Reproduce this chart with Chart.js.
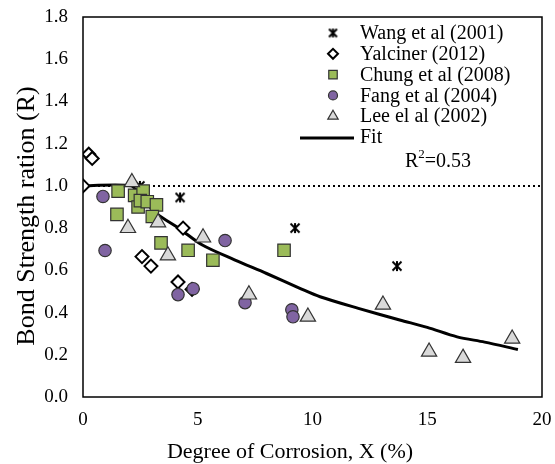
<!DOCTYPE html>
<html><head><meta charset="utf-8">
<script src="https://cdn.jsdelivr.net/npm/chart.js@4/dist/chart.umd.min.js"></script>
<style>html,body{margin:0;padding:0;background:#fff}#wrap{width:555px;height:464px}</style>
</head><body><div id="wrap"><canvas id="c" width="555" height="464"></canvas></div>
<script>
// ---- data ----
const wangX = [2.48, 4.23, 9.24, 13.68];
const wangY = [1.0, 0.945, 0.80, 0.62];
const yalX = [0, 0.25, 0.4, 2.57, 2.96, 4.14, 4.75, 4.36];
const yalY = [1.0, 1.15, 1.13, 0.665, 0.62, 0.545, 0.51, 0.80];
const chungX = [1.53, 1.48, 2.25, 2.62, 2.4, 2.5, 2.8, 3.2, 3.02, 3.4, 4.58, 5.66, 8.76];
const chungY = [0.975, 0.865, 0.955, 0.975, 0.90, 0.93, 0.925, 0.91, 0.855, 0.73, 0.695, 0.648, 0.695];
const fangX = [0.87, 0.96, 4.14, 4.8, 6.19, 7.06, 9.1, 9.15];
const fangY = [0.95, 0.694, 0.485, 0.513, 0.741, 0.447, 0.413, 0.38];
const leeX = [2.13, 1.96, 3.27, 5.23, 3.7, 7.23, 9.8, 13.07, 15.08, 16.56, 18.7];
const leeY = [1.017, 0.80, 0.827, 0.755, 0.67, 0.485, 0.38, 0.437, 0.214, 0.185, 0.276];
const fitX = [0, 2.1, 2.5, 3.2, 4.23, 5.2, 6.6, 8, 9.45, 10.33, 12, 13.8, 15, 16.3, 17.5, 18.95];
const fitY = [1.0, 1.0, 0.95, 0.87, 0.795, 0.72, 0.65, 0.585, 0.515, 0.475, 0.42, 0.365, 0.33, 0.285, 0.26, 0.225];
const refX = [0, 20];
const refY = [1.0, 1.0];
const seriesLabels = ['Wang et al (2001)', 'Yalciner (2012)', 'Chung et al (2008)', 'Fang et al (2004)', 'Lee el al (2002)', 'Fit'];
const r2Text = ['R', '2', '=0.53'];
const xTitle = 'Degree of Corrosion, X (%)';
const yTitle = 'Bond Strength ration (R)';

const pts = (xs, ys) => xs.map((x, i) => ({x: x, y: ys[i]}));

function starMarker(size) {
  const c = document.createElement('canvas');
  c.width = size; c.height = size;
  const g = c.getContext('2d');
  g.strokeStyle = '#000'; g.lineWidth = 2;
  const m = 1.5, s = size - 1.5;
  g.beginPath();
  g.moveTo(m, m); g.lineTo(s, s);
  g.moveTo(s, m); g.lineTo(m, s);
  g.moveTo(size / 2, m - 0.5); g.lineTo(size / 2, s + 0.5);
  g.stroke();
  return c;
}
const star = starMarker(12);
const starSmall = starMarker(11);

const FONT = '"Liberation Serif", "Times New Roman", serif';

const datasets = [
  {label: seriesLabels[0], data: pts(wangX, wangY), pointStyle: star, pointRadius: 6, order: 5,
   borderColor: '#000', backgroundColor: '#000', showLine: false, legendStyle: starSmall, legendRadius: 5.5},
  {label: seriesLabels[1], data: pts(yalX, yalY), pointStyle: 'rectRot', pointRadius: 6.5, pointBorderWidth: 2, order: 4,
   borderColor: '#000', backgroundColor: '#fff', showLine: false, legendRadius: 5},
  {label: seriesLabels[2], data: pts(chungX, chungY), pointStyle: 'rect', pointRadius: 8.8, pointBorderWidth: 1.2, order: 3,
   borderColor: '#333', backgroundColor: '#9BBB59', showLine: false, legendRadius: 6},
  {label: seriesLabels[3], data: pts(fangX, fangY), pointStyle: 'circle', pointRadius: 6.2, pointBorderWidth: 1.2, order: 2,
   borderColor: '#333', backgroundColor: '#8064A2', showLine: false, legendRadius: 4.5},
  {label: seriesLabels[4], data: pts(leeX, leeY), pointStyle: 'triangle', pointRadius: 8.8, pointBorderWidth: 1.2, order: 1,
   borderColor: '#333', backgroundColor: '#D9D9D9', showLine: false, legendRadius: 6},
  {label: seriesLabels[5], data: pts(fitX, fitY), showLine: true, pointRadius: 0, borderColor: '#000', borderWidth: 3,
   tension: 0.3, order: 6, isFit: true},
  {label: '', data: pts(refX, refY), showLine: true, pointRadius: 0, borderColor: '#000', borderWidth: 2,
   borderDash: [2, 3], order: 7, noLegend: true}
];

const legendPlugin = {
  id: 'customLegend',
  afterDraw(chart) {
    const ctx = chart.ctx;
    const ds = chart.data.datasets;
    const markerX = 333, textX = 360, y0 = 33, dy = 20.8;
    ctx.save();
    ctx.font = '20px ' + FONT;
    ctx.textBaseline = 'middle';
    ctx.textAlign = 'left';
    let row = 0;
    ds.forEach(d => {
      if (d.noLegend) return;
      const y = y0 + row * dy;
      if (d.isFit) {
        ctx.strokeStyle = '#000'; ctx.lineWidth = 3;
        ctx.beginPath(); ctx.moveTo(300, y + 1); ctx.lineTo(354, y + 1); ctx.stroke();
      } else {
        ctx.fillStyle = d.backgroundColor;
        ctx.strokeStyle = d.borderColor;
        ctx.lineWidth = d.pointBorderWidth || 1;
        Chart.helpers.drawPoint(ctx, {pointStyle: d.legendStyle || d.pointStyle, rotation: 0,
          borderWidth: d.pointBorderWidth || 1, radius: d.legendRadius}, markerX, y);
      }
      ctx.fillStyle = '#000';
      ctx.font = '20px ' + FONT;
      ctx.fillText(d.label, textX, y + 1);
      row++;
    });
    // R^2 annotation
    let x = 405; const y = 162;
    ctx.fillStyle = '#000';
    ctx.font = '20px ' + FONT;
    ctx.fillText(r2Text[0], x, y); x += ctx.measureText(r2Text[0]).width;
    ctx.font = '13px ' + FONT;
    ctx.fillText(r2Text[1], x, y - 7); x += ctx.measureText(r2Text[1]).width;
    ctx.font = '20px ' + FONT;
    ctx.fillText(r2Text[2], x, y);
    // axis titles
    ctx.textAlign = 'center';
    ctx.textBaseline = 'alphabetic';
    ctx.font = '22px ' + FONT;
    ctx.fillText(xTitle, 290, 458);
    ctx.translate(34, 216);
    ctx.rotate(-Math.PI / 2);
    ctx.font = '26px ' + FONT;
    ctx.fillText(yTitle, 0, 0);
    ctx.restore();
  }
};

const framePlugin = {
  id: 'frame',
  afterDatasetsDraw(chart) {
    const a = chart.chartArea, ctx = chart.ctx;
    ctx.save();
    ctx.strokeStyle = '#000'; ctx.lineWidth = 1.5;
    ctx.strokeRect(a.left, a.top, a.right - a.left, a.bottom - a.top);
    ctx.restore();
  }
};

new Chart(document.getElementById('c'), {
  type: 'scatter',
  data: {datasets: datasets},
  plugins: [framePlugin, legendPlugin],
  options: {
    responsive: false,
    animation: false,
    layout: {padding: {left: 0, right: 13, top: 17, bottom: 0}},
    plugins: {legend: {display: false}, tooltip: {enabled: false}},
    scales: {
      x: {
        type: 'linear', min: 0, max: 20,
        grid: {display: false, drawTicks: false},
        border: {display: false},
        ticks: {stepSize: 5, padding: 12, color: '#000', font: {family: FONT, size: 19}},
        title: {display: false, text: xTitle},
        afterFit(s) { s.height = 67; s.paddingLeft = 0; s.paddingRight = 0; }
      },
      y: {
        type: 'linear', min: 0, max: 1.8,
        grid: {display: false, drawTicks: false},
        border: {display: false},
        ticks: {stepSize: 0.2, padding: 15, color: '#000', font: {family: FONT, size: 19},
          callback: v => Number(v).toFixed(1)},
        title: {display: false, text: yTitle},
        afterFit(s) { s.width = 83; s.paddingTop = 0; s.paddingBottom = 0; }
      }
    }
  }
});
</script>
</body></html>
